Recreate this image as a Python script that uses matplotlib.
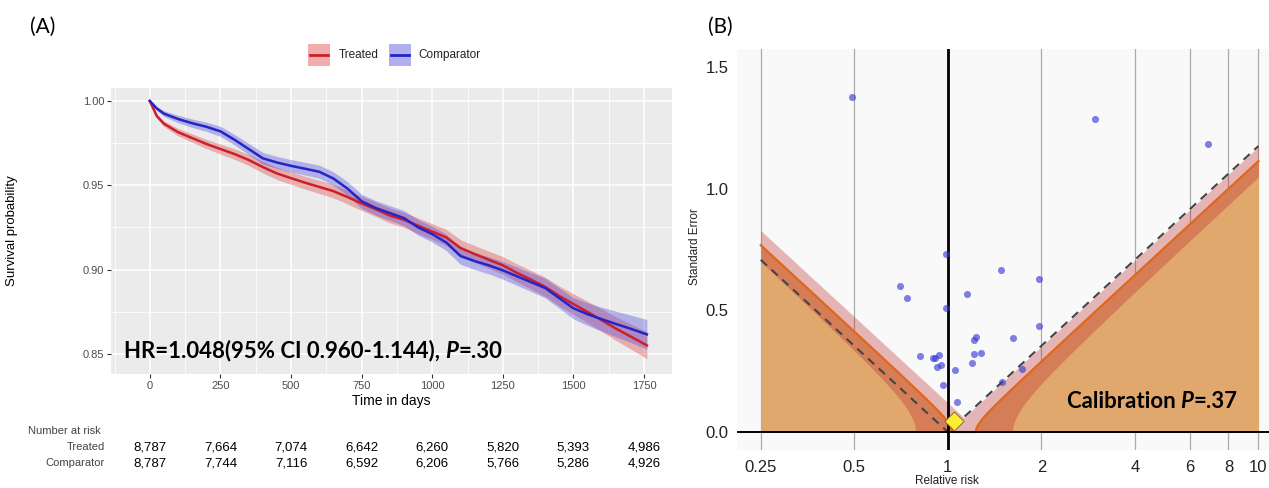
import numpy as np
import matplotlib
matplotlib.use("Agg")
import matplotlib.pyplot as plt
from matplotlib.patches import Rectangle
from matplotlib.lines import Line2D
from matplotlib import transforms
from matplotlib.ticker import FixedLocator, NullLocator, FormatStrFormatter

plt.rcParams['font.family'] = ['Liberation Sans', 'DejaVu Sans']

# ---------------- Panel A: Kaplan-Meier ----------------
days = [0, 25, 50, 100, 150, 200, 250, 300, 350, 400, 450, 500, 550, 600, 650, 700,
        750, 800, 850, 900, 950, 1000, 1050, 1100, 1150, 1200, 1250, 1300, 1350,
        1400, 1450, 1500, 1550, 1600, 1650, 1700, 1760]
surv_treated = [1.000, 0.991, 0.9865, 0.9815, 0.978, 0.9745, 0.9715, 0.9685, 0.965,
                0.9608, 0.957, 0.9542, 0.9515, 0.949, 0.9465, 0.943, 0.9392, 0.9358,
                0.932, 0.9295, 0.926, 0.9225, 0.919, 0.9128, 0.9092, 0.9058, 0.9025,
                0.898, 0.894, 0.8897, 0.8843, 0.8795, 0.8748, 0.8699, 0.865, 0.8605, 0.855]
surv_comparator = [1.000, 0.9955, 0.9925, 0.9893, 0.9868, 0.9847, 0.982, 0.977, 0.9715,
                   0.966, 0.9635, 0.9615, 0.9598, 0.958, 0.954, 0.948, 0.9405, 0.9365,
                   0.9335, 0.9305, 0.925, 0.921, 0.916, 0.908, 0.905, 0.9025, 0.8995,
                   0.896, 0.8925, 0.889, 0.883, 0.877, 0.8735, 0.8705, 0.8677, 0.865, 0.8615]
ci_half_treated = [0.0, 0.0012, 0.0017, 0.0022, 0.0025, 0.0027, 0.003, 0.0031, 0.0033,
                   0.0035, 0.0036, 0.0037, 0.0038, 0.0039, 0.004, 0.0041, 0.0042, 0.0043,
                   0.0044, 0.0045, 0.0046, 0.0047, 0.0048, 0.0049, 0.005, 0.0051, 0.0052,
                   0.0053, 0.0055, 0.0057, 0.0059, 0.0061, 0.0064, 0.0067, 0.007, 0.0074, 0.008]
ci_half_comparator = [0.0, 0.0012, 0.0017, 0.0022, 0.0025, 0.0027, 0.003, 0.0031, 0.0033,
                      0.0035, 0.0036, 0.0037, 0.0038, 0.0039, 0.004, 0.0041, 0.0042, 0.0043,
                      0.0044, 0.0045, 0.0046, 0.0047, 0.0048, 0.0049, 0.005, 0.0051, 0.0052,
                      0.0054, 0.0056, 0.0058, 0.006, 0.0063, 0.0067, 0.0071, 0.0076, 0.0081, 0.0088]

risk_days = [0, 250, 500, 750, 1000, 1250, 1500, 1750]
risk_treated = ['8,787', '7,664', '7,074', '6,642', '6,260', '5,820', '5,393', '4,986']
risk_comparator = ['8,787', '7,744', '7,116', '6,592', '6,206', '5,766', '5,286', '4,926']
groups = ['Treated', 'Comparator']

# ---------------- Panel B: calibration plot ----------------
ctrl_rr = [0.493, 2.98, 6.90, 0.984, 1.478, 1.97, 0.703, 0.741, 1.15, 0.984, 1.96, 1.62,
           1.23, 1.21, 0.816, 0.896, 0.908, 0.939, 1.21, 1.28, 0.921, 0.951, 1.20, 1.053,
           1.73, 0.968, 1.49, 1.071]
ctrl_se = [1.377, 1.287, 1.183, 0.731, 0.665, 0.630, 0.600, 0.551, 0.568, 0.510, 0.437,
           0.385, 0.392, 0.376, 0.313, 0.305, 0.305, 0.317, 0.321, 0.325, 0.268, 0.275,
           0.283, 0.254, 0.257, 0.195, 0.206, 0.124]
outcome_rr = 1.048
outcome_se = 0.044

null_mean = 0.12          # log scale
null_sd = 0.045
null_mean_lo, null_mean_hi = 0.005, 0.235
null_sd_hi = 0.125

x_ticks_b = [0.25, 0.5, 1, 2, 4, 6, 8, 10]
x_ticklabels_b = ['0.25', '0.5', '1', '2', '4', '6', '8', '10']

W, H = 1269, 488


def fx(px):
    return px / W


def fy(py):
    return 1 - py / H


fig = plt.figure(figsize=(12.69, 4.88), dpi=100)

RED = '#CC1F2A'
BLUE = '#2424C8'
RED_FILL = '#E04848'
BLUE_FILL = '#5050E0'

# ================= Panel A =================
axA = fig.add_axes([fx(111.4), fy(374), (672 - 111.4) / W, (374 - 88) / H])
axA.set_facecolor('#EBEBEB')
for s in axA.spines.values():
    s.set_visible(False)

t = np.array(days)
st = np.array(surv_treated)
sc = np.array(surv_comparator)
ht = np.array(ci_half_treated)
hc = np.array(ci_half_comparator)

axA.fill_between(t, st - ht, st + ht, color=RED_FILL, alpha=0.38, lw=0)
axA.fill_between(t, sc - hc, sc + hc, color=BLUE_FILL, alpha=0.38, lw=0)
axA.plot(t, st, color=RED, lw=1.8)
axA.plot(t, sc, color=BLUE, lw=1.8)

axA.set_xlim(-136, 1849)
axA.set_ylim(0.838, 1.0077)
axA.xaxis.set_major_locator(FixedLocator(risk_days))
axA.xaxis.set_minor_locator(FixedLocator([-125, 125, 375, 625, 875, 1125, 1375, 1625]))
axA.yaxis.set_major_locator(FixedLocator([0.85, 0.90, 0.95, 1.00]))
axA.yaxis.set_minor_locator(FixedLocator([0.875, 0.925, 0.975]))
axA.yaxis.set_major_formatter(FormatStrFormatter('%.2f'))
axA.grid(which='major', color='white', lw=1.1)
axA.grid(which='minor', color='white', lw=0.55)
axA.set_axisbelow(True)
axA.tick_params(which='major', length=3, width=0.8, color='#333333',
                labelcolor='#4D4D4D', labelsize=8, pad=2)
axA.tick_params(which='minor', length=0)
axA.set_xlabel('Time in days', fontsize=10, labelpad=2)
axA.set_ylabel('Survival probability', fontsize=9.5)
axA.yaxis.set_label_coords((18 - 111.4) / (672 - 111.4), 0.5)

# HR annotation with italic P
fig.canvas.draw()
r = fig.canvas.get_renderer()
hr_font = dict(family=['Lato', 'DejaVu Sans'], fontsize=16, fontweight='bold', color='black')
t1 = axA.text(-92, 0.8477, 'HR=1.048(95% CI 0.960-1.144), ', va='baseline', **hr_font)
bb = t1.get_window_extent(r)
y_disp = axA.transData.transform((0, 0.8477))[1]
t2 = axA.text(bb.x1, y_disp, 'P', transform=transforms.IdentityTransform(),
              va='baseline', style='italic', **hr_font)
bb2 = t2.get_window_extent(r)
axA.text(bb2.x1, y_disp, '=.30', transform=transforms.IdentityTransform(),
         va='baseline', **hr_font)

# legend drawn by hand (square keys like ggplot)
for (x0, x1, tx), name, fill, col in zip([(308, 330, 339), (389, 411, 418)], groups,
                                          [RED_FILL, BLUE_FILL], [RED, BLUE]):
    fig.patches.append(Rectangle((fx(x0), fy(66)), (x1 - x0) / W, 22 / H,
                                 transform=fig.transFigure, fc=fill, alpha=0.45, lw=0))
    fig.lines.append(Line2D([fx(x0 + 2), fx(x1 - 2)], [fy(55), fy(55)],
                            transform=fig.transFigure, color=col, lw=2))
    fig.text(fx(tx), fy(55), name, fontsize=8.5, va='center', ha='left', color='#222222')

# number at risk table
trans = transforms.blended_transform_factory(axA.transData, fig.transFigure)
fig.text(fx(28), fy(431), 'Number at risk', fontsize=8, color='#444444', va='center')
fig.text(fx(105), fy(447), groups[0], fontsize=8, color='#444444', va='center', ha='right')
fig.text(fx(105), fy(463), groups[1], fontsize=8, color='#444444', va='center', ha='right')
for d, a, b in zip(risk_days, risk_treated, risk_comparator):
    fig.text(d, fy(447), a, transform=trans, ha='center', va='center', fontsize=9.5)
    fig.text(d, fy(463), b, transform=trans, ha='center', va='center', fontsize=9.5)

fig.text(fx(30), fy(27), '(A)', family=['Lato', 'DejaVu Sans'], fontsize=15, va='center')
fig.text(fx(708), fy(27), '(B)', family=['Lato', 'DejaVu Sans'], fontsize=15, va='center')

# ================= Panel B =================
axB = fig.add_axes([fx(737), fy(450), (W - 737) / W, (450 - 49.3) / H])
axB.set_facecolor('#F9F9F9')
for s in axB.spines.values():
    s.set_visible(False)
axB.set_xscale('log')
axB.set_xlim(0.2096, 10.81)
axB.set_ylim(-0.074, 1.572)

L = np.linspace(np.log(0.25), np.log(10), 3000)
xx = np.exp(L)

# calibrated significance boundary
f0 = np.sqrt(np.clip(((L - null_mean) / 1.96) ** 2 - null_sd ** 2, 0, None))
axB.fill_between(xx, 0, f0, color='#E1A86E', lw=0, zorder=1)

# uncertainty band of that boundary
has_l = L < null_mean_hi
has_r = L > null_mean_lo
hi_l = np.clip((null_mean_hi - L) / 1.96, 0, None)
hi_r = np.clip((L - null_mean_lo) / 1.96, 0, None)
lo_l = np.where(L < null_mean_lo,
                np.sqrt(np.clip(((null_mean_lo - L) / 1.96) ** 2 - null_sd_hi ** 2, 0, None)), 0)
lo_r = np.where(L > null_mean_hi,
                np.sqrt(np.clip(((L - null_mean_hi) / 1.96) ** 2 - null_sd_hi ** 2, 0, None)), 0)
upper = np.where(has_l & has_r, np.maximum(hi_l, hi_r), np.where(has_l, hi_l, hi_r))
lower = np.where(has_l & has_r, 0, np.where(has_l, lo_l, lo_r))
axB.fill_between(xx, lower, upper, color='#BE2828', alpha=0.33, lw=0, zorder=2)

axB.plot(xx, f0, color='#E0661C', lw=1.6, zorder=3)
axB.plot(xx, np.abs(L) / 1.96, color='#444444', lw=1.5, ls=(0, (4, 3)), zorder=3)

for xv in x_ticks_b:
    axB.axvline(xv, color='#AAAAAA', lw=0.9, zorder=0.5)
axB.axvline(1, color='black', lw=2, zorder=4)
axB.axhline(0, color='black', lw=1.4, zorder=4)

axB.scatter(ctrl_rr, ctrl_se, s=26, color='#3535D5', alpha=0.62, lw=0, zorder=5)
axB.scatter([outcome_rr], [outcome_se], s=95, marker='D', color='#FFEE2E',
            edgecolor='#666633', lw=0.6, zorder=6)

axB.xaxis.set_major_locator(FixedLocator(x_ticks_b))
axB.xaxis.set_minor_locator(NullLocator())
axB.set_xticklabels(x_ticklabels_b)
axB.yaxis.set_major_locator(FixedLocator([0, 0.5, 1.0, 1.5]))
axB.yaxis.set_major_formatter(FormatStrFormatter('%.1f'))
axB.tick_params(length=0, labelsize=12, labelcolor='#222222', pad=6)
axB.tick_params(axis='x', pad=7)

fig.text(fx(695.5), fy(247), 'Standard Error', rotation=90, fontsize=8.5,
         ha='center', va='center', color='#222222')
fig.text(fx(947), fy(481), 'Relative risk', fontsize=8.5,
         ha='center', va='center', color='#222222')

cal_font = dict(family=['Lato', 'DejaVu Sans'], fontsize=16, fontweight='bold', color='black')
c1 = axB.text(2.41, 0.124, 'Calibration ', va='center', **cal_font)
cb = c1.get_window_extent(r)
cy = axB.transData.transform((1, 0.124))[1]
c2 = axB.text(cb.x1, cy, 'P', transform=transforms.IdentityTransform(), va='center',
              style='italic', **cal_font)
cb2 = c2.get_window_extent(r)
axB.text(cb2.x1, cy, '=.37', transform=transforms.IdentityTransform(), va='center', **cal_font)

fig.savefig('out.png', dpi=100, facecolor='white')
